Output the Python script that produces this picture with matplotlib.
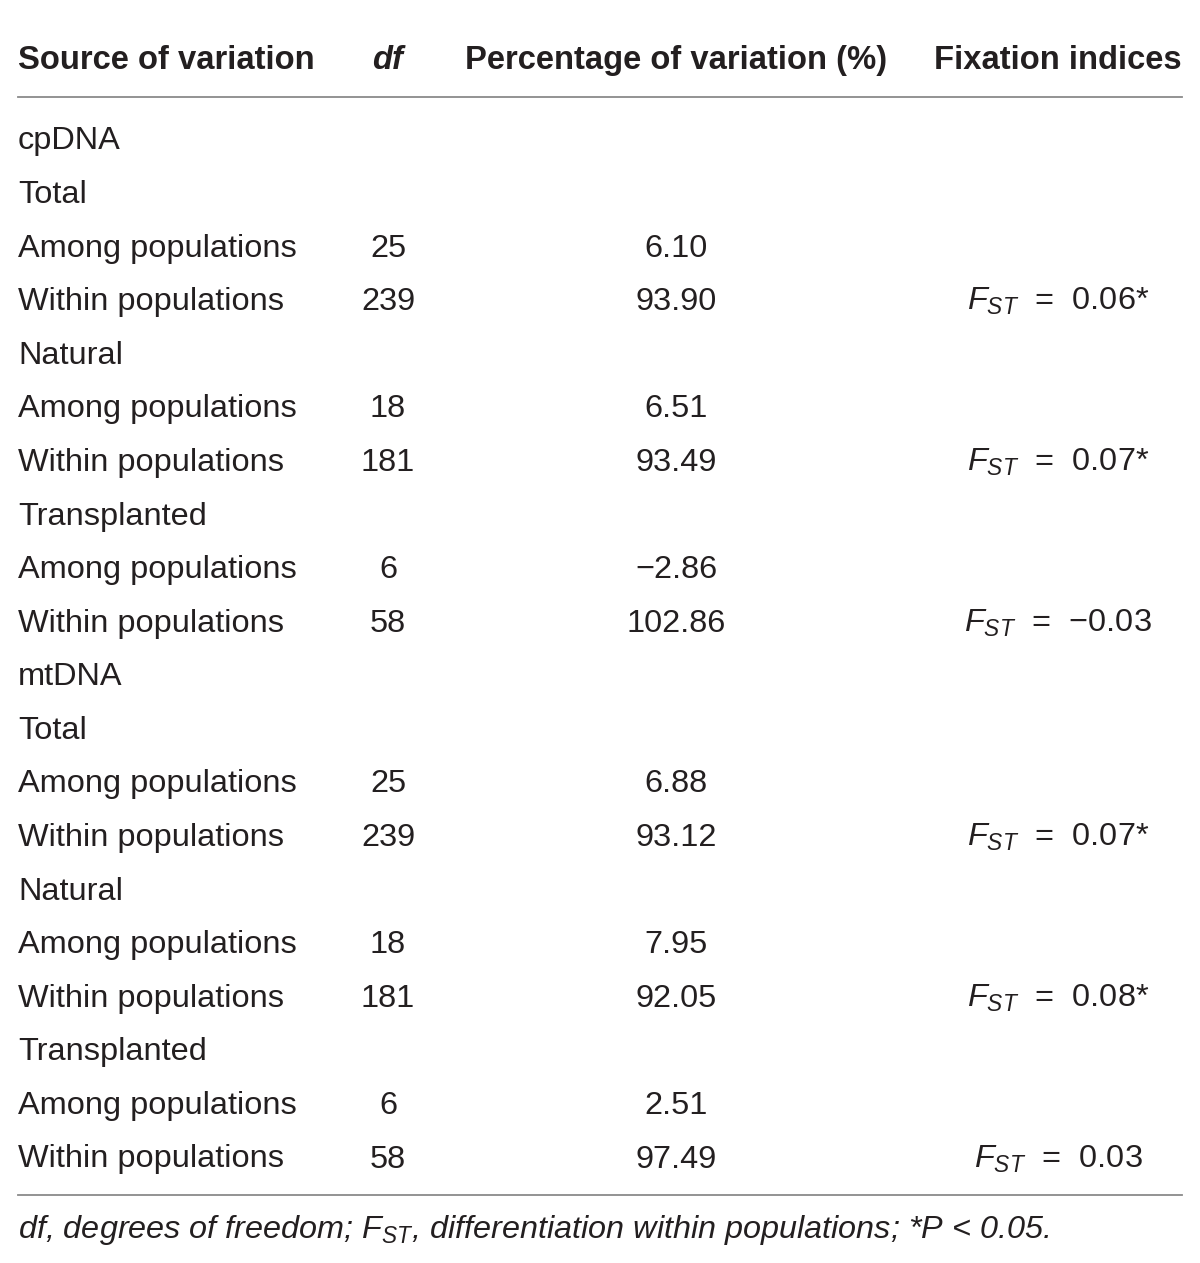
import matplotlib.pyplot as plt

plt.rcParams['font.family'] = ['Liberation Sans', 'DejaVu Sans']
plt.rcParams['mathtext.fontset'] = 'custom'
plt.rcParams['mathtext.rm'] = 'Liberation Sans'
plt.rcParams['mathtext.it'] = 'Liberation Sans:italic'

# table content
headers = ['Source of variation', 'df', 'Percentage of variation (%)', 'Fixation indices']
sources = ['cpDNA', 'Total', 'Among populations', 'Within populations',
           'Natural', 'Among populations', 'Within populations',
           'Transplanted', 'Among populations', 'Within populations',
           'mtDNA', 'Total', 'Among populations', 'Within populations',
           'Natural', 'Among populations', 'Within populations',
           'Transplanted', 'Among populations', 'Within populations']
dfs = ['', '', '25', '239', '', '18', '181', '', '6', '58',
       '', '', '25', '239', '', '18', '181', '', '6', '58']
pcts = ['', '', '6.10', '93.90', '', '6.51', '93.49', '', '\u22122.86', '102.86',
        '', '', '6.88', '93.12', '', '7.95', '92.05', '', '2.51', '97.49']
fst = ['', '', '', '0.06*', '', '', '0.07*', '', '', '\u22120.03',
       '', '', '', '0.07*', '', '', '0.08*', '', '', '0.03']
footnote = r'$\mathit{df}$, degrees of freedom; $\mathit{F}_{\mathit{ST}}$, differentiation within populations; *$\mathit{P}$ < 0.05.'

W, H = 1200, 1263
fig = plt.figure(figsize=(W / 100, H / 100), dpi=100)
txt_color = '#231f20'
line_color = '#8a8a8a'

def fy(y):
    return 1 - y / H

def fx(x):
    return x / W

col_x = [18, 388, 676, 1058]
fs = 23.4
hfs = 23.6

# header (baselines)
hy = fy(69)
fig.text(fx(col_x[0]), hy, headers[0], ha='left', va='baseline', fontsize=hfs, fontweight='bold', color=txt_color)
fig.text(fx(col_x[1]), hy, headers[1], ha='center', va='baseline', fontsize=hfs, fontweight='bold', style='italic', color=txt_color)
fig.text(fx(col_x[2]), hy, headers[2], ha='center', va='baseline', fontsize=hfs, fontweight='bold', color=txt_color)
fig.text(fx(1182), hy, headers[3], ha='right', va='baseline', fontsize=hfs, fontweight='bold', color=txt_color)

fig.add_artist(plt.Line2D([fx(18), fx(1182)], [fy(97), fy(97)], color=line_color, lw=1.3))

row_h = (1156 - 138) / (len(sources) - 1)
for i, (s, d, p, f) in enumerate(zip(sources, dfs, pcts, fst)):
    y = fy(138 + i * row_h + 11.5)
    fig.text(fx(col_x[0]), y, s, ha='left', va='baseline', fontsize=fs, color=txt_color)
    if d:
        fig.text(fx(col_x[1]), y, d, ha='center', va='baseline', fontsize=fs, color=txt_color)
    if p:
        fig.text(fx(col_x[2]), y, p, ha='center', va='baseline', fontsize=fs, color=txt_color)
    if f:
        fig.text(fx(col_x[3]), y, r'$\mathit{F}_{\mathit{ST}}$  =  ' + f, ha='center', va='baseline',
                 fontsize=fs, color=txt_color)

fig.add_artist(plt.Line2D([fx(18), fx(1182)], [fy(1195), fy(1195)], color=line_color, lw=1.3))

fig.text(fx(18), fy(1238), footnote, ha='left', va='baseline', fontsize=23.3, style='italic', color=txt_color)

fig.savefig('out.png', dpi=100, facecolor='white')
